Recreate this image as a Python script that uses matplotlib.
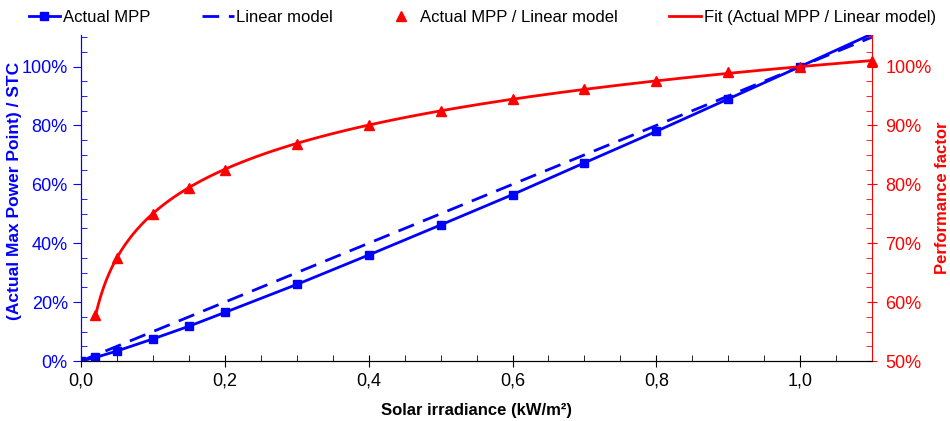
import numpy as np
import matplotlib.pyplot as plt
from matplotlib.ticker import MultipleLocator, FuncFormatter

plt.rcParams['font.family'] = ['Liberation Sans', 'DejaVu Sans']

# irradiance (kW/m²)
irradiance = [0.0, 0.02, 0.05, 0.1, 0.15, 0.2, 0.3, 0.4, 0.5, 0.6, 0.7, 0.8, 0.9, 1.0]
# actual max power point / STC
actual_mpp = [0.0, 0.012, 0.034, 0.075, 0.118, 0.165, 0.26, 0.36, 0.462, 0.565, 0.673, 0.78, 0.89, 1.0]
# linear model end points
linear_x = [0.0, 1.1]
linear_y = [0.0, 1.1]
# performance factor (actual / linear)
pf_x = [0.02, 0.05, 0.1, 0.15, 0.2, 0.3, 0.4, 0.5, 0.6, 0.7, 0.8, 0.9, 1.0, 1.1]
pf_y = [0.578, 0.675, 0.75, 0.793, 0.825, 0.869, 0.90, 0.925, 0.945, 0.962, 0.975, 0.99, 1.0, 1.01]

blue = '#0000ff'
red = '#ff0000'

fig = plt.figure(figsize=(9.5, 4.21), dpi=100)
ax = fig.add_axes([0.0853, 0.1425, 0.8327, 0.775])
ax2 = ax.twinx()

# actual MPP line continues to the end of the axis, markers only at the measured points
mpp_x = irradiance + [1.1]
mpp_y = actual_mpp + [1.1 * pf_y[-1]]
l1, = ax.plot(mpp_x, mpp_y, color=blue, lw=2, marker='s', ms=6,
              markevery=list(range(len(irradiance))), label='Actual MPP', zorder=3)
l2, = ax.plot(linear_x, linear_y, color=blue, lw=2, ls=(0, (6, 3.5)), label='Linear model')

# log fit of the performance factor
coef = np.polyfit(np.log(pf_x), pf_y, 1)
fit_x = np.linspace(pf_x[0], pf_x[-1], 300)
fit_y = np.polyval(coef, np.log(fit_x))
l4, = ax2.plot(fit_x, fit_y, color=red, lw=2, label='Fit (Actual MPP / Linear model)')
l3, = ax2.plot(pf_x, pf_y, ls='none', marker='^', ms=7, color=red,
               label='Actual MPP / Linear model', clip_on=False)

ax.set_xlim(0, 1.1)
ax.set_ylim(0, 1.108)
ax2.set_ylim(0.5, 1.054)

ax.xaxis.set_major_locator(MultipleLocator(0.2))
ax.xaxis.set_minor_locator(MultipleLocator(0.05))
ax.xaxis.set_major_formatter(FuncFormatter(lambda v, p: f'{v:.1f}'.replace('.', ',')))
ax.yaxis.set_major_locator(MultipleLocator(0.2))
ax.yaxis.set_minor_locator(MultipleLocator(0.05))
ax.yaxis.set_major_formatter(FuncFormatter(lambda v, p: f'{v*100:.0f}%'))
ax2.yaxis.set_major_locator(MultipleLocator(0.1))
ax2.yaxis.set_minor_locator(MultipleLocator(0.025))
ax2.yaxis.set_major_formatter(FuncFormatter(lambda v, p: f'{v*100:.0f}%'))

ax.tick_params(axis='x', which='major', direction='inout', length=8, labelsize=13, pad=4)
ax.tick_params(axis='x', which='minor', direction='in', length=4)
ax.tick_params(axis='y', which='major', direction='out', length=6, colors=blue, labelsize=13, pad=3.5)
ax.tick_params(axis='y', which='minor', direction='in', length=4, colors=blue)
ax2.tick_params(axis='y', which='major', direction='inout', length=7, colors=red, labelsize=13, pad=6)
ax2.tick_params(axis='y', which='minor', direction='in', length=4, colors=red)

for a in (ax, ax2):
    a.spines['top'].set_visible(False)
ax2.spines['left'].set_color(blue)
ax2.spines['right'].set_color(red)
ax.spines['left'].set_color(blue)
ax.spines['right'].set_visible(False)

ax.set_xlabel('Solar irradiance (kW/m²)', fontsize=12, fontweight='bold')
ax.xaxis.set_label_coords(0.5, -0.129)
ax.set_ylabel('(Actual Max Power Point) / STC', fontsize=12.5, fontweight='bold', color=blue)
ax.yaxis.set_label_coords(-0.075, 0.52)
ax2.set_ylabel('Performance factor', fontsize=12, fontweight='bold', color=red)
ax2.yaxis.set_label_coords(1.079, 0.5)

fig.legend(handles=[l1, l2, l3, l4], loc='lower left', ncol=4, mode='expand',
           bbox_to_anchor=(0.03, 0.94, 0.955, 0.05), frameon=False, fontsize=12,
           handlelength=1.9, handletextpad=0.15, borderaxespad=0, borderpad=0)

fig.savefig('out.png', dpi=100)
